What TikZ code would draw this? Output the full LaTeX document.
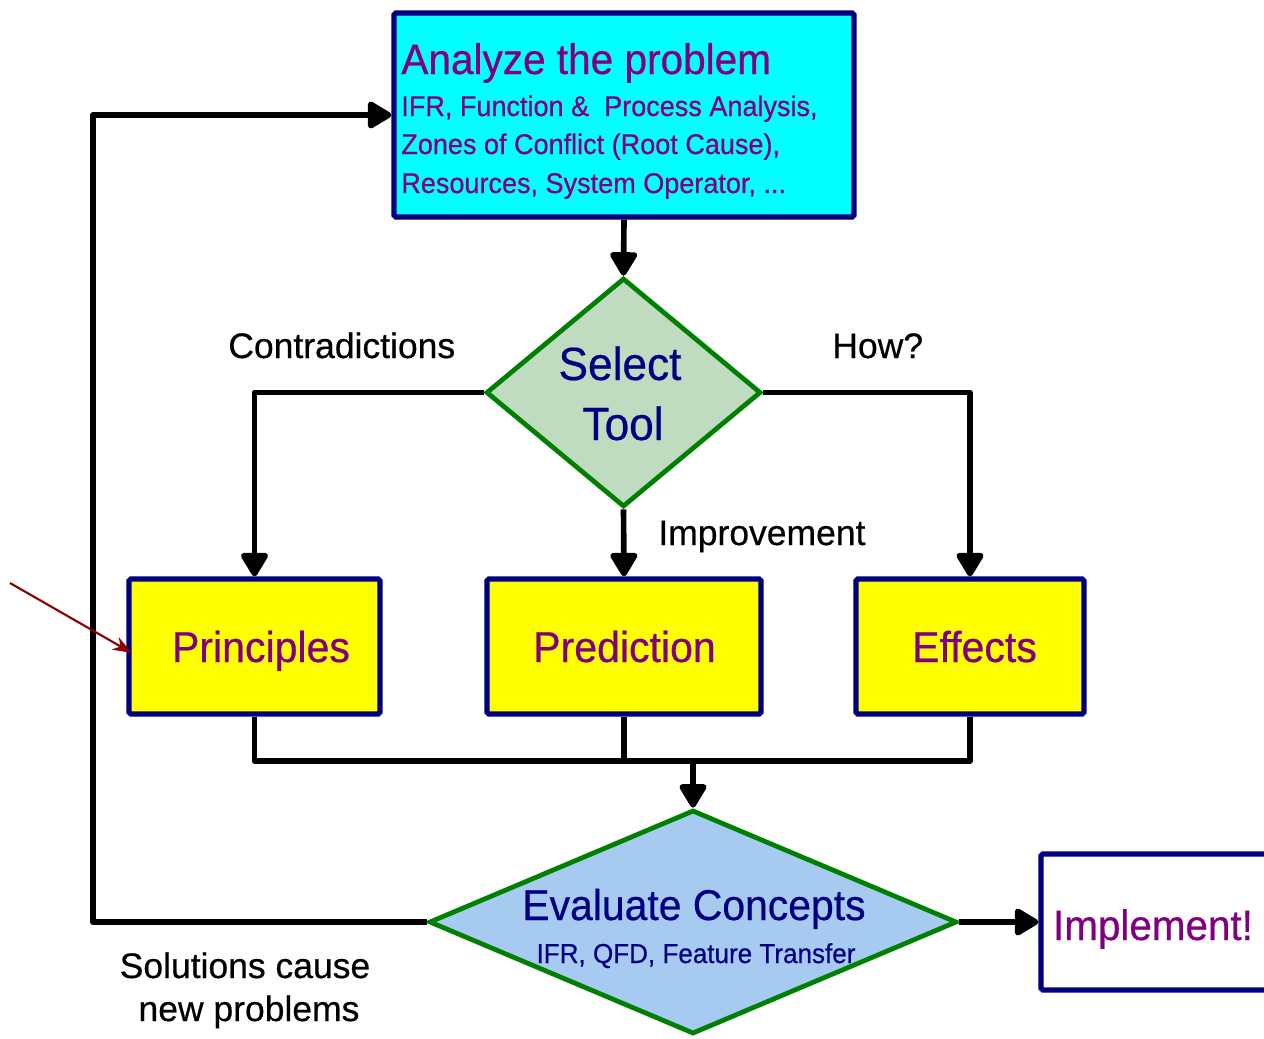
\documentclass[tikz,border=0pt]{standalone}
\usepackage{fontspec}
\setmainfont{Liberation Sans}[FakeBold=0.5]
\newfontfamily\cf{Liberation Sans}[FakeStretch=0.95,FakeBold=0.5]
\usetikzlibrary{arrows.meta,shapes.geometric}
\definecolor{navy}{HTML}{000080}
\definecolor{purp}{HTML}{800080}
\definecolor{cyanbox}{HTML}{00FFFF}
\definecolor{yellowbox}{HTML}{FFFF00}
\definecolor{grn}{HTML}{008000}
\definecolor{lgreen}{HTML}{C0DCC0}
\definecolor{lblue}{HTML}{A6CAF0}
\definecolor{dred}{HTML}{8B0000}
\tikzset{
  box/.style={draw=navy, line width=3pt, rounded corners=1pt, inner sep=0pt},
  dia/.style={diamond, draw=grn, line width=2.7pt, inner sep=0pt, aspect=1},
  conn/.style={draw=black, line width=3.2pt, line join=round},
  arr/.style={conn, -{Triangle[length=15pt,width=17pt,round]}},
  ctext/.style={inner sep=0pt, font=\cf},
  btext/.style={inner sep=0pt, text=black, font=\fontsize{20.2}{24}\selectfont},
}
\begin{document}
\begin{tikzpicture}[x=0.02cm, y=-0.02cm]
\useasboundingbox (0,0) rectangle (1264,1038);

% boxes
\node[box, fill=cyanbox, minimum width=9.2cm, minimum height=4.08cm] (ana) at (624,115) {};
\node[dia, fill=lgreen, minimum width=5.5cm, minimum height=4.58cm] (sel) at (623.5,392.5) {};
\node[box, fill=yellowbox, minimum width=5.02cm, minimum height=2.7cm] (prin) at (254.5,646.5) {};
\node[box, fill=yellowbox, minimum width=5.48cm, minimum height=2.7cm] (pred) at (624,646.5) {};
\node[box, fill=yellowbox, minimum width=4.56cm, minimum height=2.7cm] (eff) at (970,646.5) {};
\node[dia, fill=lblue, minimum width=10.56cm, minimum height=4.48cm] (eval) at (693,922) {};
\node[box, fill=white, minimum width=4.6cm, minimum height=2.72cm] (impl) at (1156,922) {};

% texts in analyze
\node[ctext, text=purp, anchor=base west, font=\cf\fontsize{24.3}{29}\selectfont] (anat) at (401,74) {Analyze the problem};
\node[ctext, text=purp, anchor=base west, font=\cf\fontsize{16.2}{19}\selectfont] (ana1) at (401,116) {IFR, Function \&\ \ Process Analysis,};
\node[ctext, text=purp, anchor=base west, font=\cf\fontsize{16.2}{19}\selectfont] (ana2) at (401,154) {Zones of Conflict (Root Cause),};
\node[ctext, text=purp, anchor=base west, font=\cf\fontsize{16.2}{19}\selectfont] (ana3) at (401,193) {Resources, System Operator, ...};

% select tool
\node[ctext, text=navy, anchor=base, font=\cf\fontsize{26.5}{31}\selectfont] (selt1) at (620,380) {Select};
\node[ctext, text=navy, anchor=base, font=\cf\fontsize{26.5}{31}\selectfont] (selt2) at (623,440) {Tool};

% tool boxes
\node[ctext, text=purp, anchor=base, font=\cf\fontsize{24.6}{29}\selectfont] (print) at (261,662) {Principles};
\node[ctext, text=purp, anchor=base, font=\cf\fontsize{24.6}{29}\selectfont] (predt) at (624.5,662) {Prediction};
\node[ctext, text=purp, anchor=base, font=\cf\fontsize{24.6}{29}\selectfont] (efft) at (974.5,662) {Effects};

% evaluate
\node[ctext, text=navy, anchor=base, font=\cf\fontsize{24.5}{29}\selectfont] (evt1) at (694,920) {Evaluate Concepts};
\node[ctext, text=navy, anchor=base, font=\cf\fontsize{15.6}{19}\selectfont] (evt2) at (696,963) {IFR, QFD, Feature Transfer};

% implement
\node[ctext, text=purp, anchor=base, font=\cf\fontsize{24.2}{29}\selectfont] (implt) at (1153,940) {Implement!};

% black labels
\node[btext, anchor=base west] (lcon) at (228,358) {Contradictions};
\node[btext, anchor=base west] (lhow) at (832,358) {How?};
\node[btext, anchor=base west] (limp) at (658,545) {Improvement};
\node[btext, anchor=base] (lsol1) at (245,978) {Solutions cause};
\node[btext, anchor=base] (lsol2) at (249,1021) {new problems};

% connectors
\draw[arr] (ana.south) -- (sel.north);
\draw[arr] (sel.west) -| (prin.north);
\draw[arr] (sel.east) -| (eff.north);
\draw[arr] (sel.south) -- (pred.north);

\coordinate (mj) at (693,761);
\draw[conn] (prin.south) -- (prin.south |- mj) -- (eff.south |- mj) -- (eff.south);
\draw[conn] (pred.south) -- (pred.south |- mj);
\draw[arr] (mj) -- (eval.north);

\coordinate (lb) at (93,922);
\coordinate (lt) at (93,115);
\draw[arr] (eval.west) -- (lb) -- (lt) -- (ana.west);
\draw[arr] (eval.east) -- (impl.west);

% red pointer
\coordinate (r0) at (10,583);
\coordinate (r1) at (132,653);
\draw[dred, line width=1.2pt, -{Stealth[length=11pt,width=8pt]}] (r0) -- (r1);
\end{tikzpicture}
\end{document}
